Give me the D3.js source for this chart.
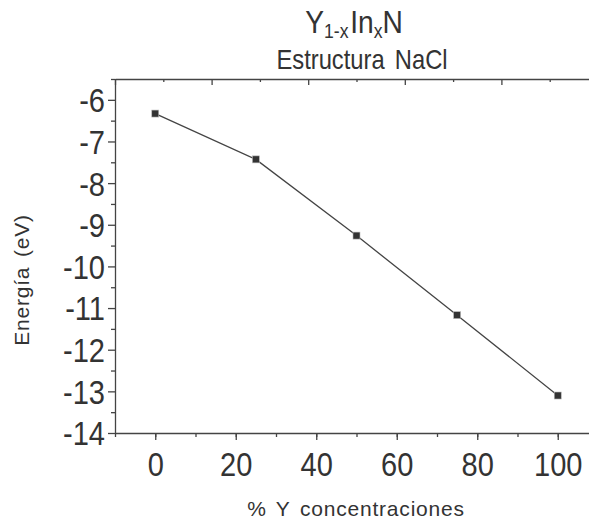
<!DOCTYPE html>
<html lang="es">
<head>
    <meta charset="UTF-8">
    <title>Y1-xInxN Estructura NaCl</title>
    <style>
        body { margin: 0; background: #fff; }
        svg { display: block; font-family: "Liberation Sans", Arial, sans-serif; }
        .axis path, .axis line { stroke: #444; stroke-width: 1.3; }
        .axis text { fill: #333; font-size: 33px; }
    </style>
</head>
<body>
    <div id="chart"></div>
    <script src="https://d3js.org/d3.v7.min.js"></script>
    <script>
        const concentration = [0, 25, 50, 75, 100];
        const energy = [-6.33, -7.43, -9.26, -11.17, -13.1];
        const xTicks = [0, 20, 40, 60, 80, 100];
        const yTicks = [-6, -7, -8, -9, -10, -11, -12, -13, -14];

        const width = 589, height = 522;
        const mLeft = 115, mRight = 598, mTop = 79, mBottom = 433;
        const squeeze = 0.88; // the original lettering is a bit condensed

        const svg = d3.select("#chart").append("svg")
            .attr("width", width)
            .attr("height", height);

        const x = d3.scaleLinear().domain([-10, 110]).range([mLeft, mRight]);
        const y = d3.scaleLinear().domain([-14, -5.5]).range([mBottom, mTop]);
        // top frame has its own unlabeled scale in the original
        const xTop = d3.scaleLinear().domain([0, 5]).range([mLeft, mRight]);

        // minor ticks
        svg.append("g").attr("class", "axis")
            .attr("transform", `translate(0,${mBottom})`)
            .call(d3.axisBottom(x).tickValues(d3.range(-10, 111, 10)).tickSize(4).tickFormat(""))
            .select(".domain").remove();
        svg.append("g").attr("class", "axis")
            .attr("transform", `translate(${mLeft},0)`)
            .call(d3.axisLeft(y).tickValues(d3.range(-13.5, -5.4, 1)).tickSize(4).tickFormat(""))
            .select(".domain").remove();

        // major ticks
        const xAxis = svg.append("g").attr("class", "axis")
            .attr("transform", `translate(0,${mBottom})`)
            .call(d3.axisBottom(x).tickValues(xTicks).tickSize(7).tickSizeOuter(0).tickPadding(13));
        xAxis.selectAll(".tick text").attr("transform", `scale(${squeeze},1)`);

        const yAxis = svg.append("g").attr("class", "axis")
            .attr("transform", `translate(${mLeft},0)`)
            .call(d3.axisLeft(y).tickValues(yTicks).tickSize(7).tickSizeOuter(0).tickPadding(3)
                .tickFormat(d => String(d)));
        yAxis.selectAll(".tick text")
            .attr("dy", "0.36em")
            .attr("x", -10 / squeeze)
            .attr("transform", `scale(${squeeze},1)`);

        // top frame with inward ticks
        svg.append("g").attr("class", "axis")
            .attr("transform", `translate(0,${mTop})`)
            .call(d3.axisTop(xTop).tickValues(d3.range(0.5, 5, 1)).tickSize(-3).tickFormat(""))
            .select(".domain").remove();
        svg.append("g").attr("class", "axis")
            .attr("transform", `translate(0,${mTop})`)
            .call(d3.axisTop(xTop).tickValues(d3.range(0, 6, 1)).tickSize(-6).tickSizeOuter(0).tickFormat(""));

        const pts = concentration.map((c, i) => ({ c, e: energy[i] }));

        svg.append("path")
            .datum(pts)
            .attr("fill", "none")
            .attr("stroke", "#444")
            .attr("stroke-width", 1.3)
            .attr("d", d3.line().x(d => x(d.c)).y(d => y(d.e)));

        svg.selectAll("rect.pt")
            .data(pts)
            .enter().append("rect")
            .attr("class", "pt")
            .attr("x", d => x(d.c) - 3.5)
            .attr("y", d => y(d.e) - 3.5)
            .attr("width", 7)
            .attr("height", 7)
            .attr("fill", "#333")
            .attr("stroke", "#bbb")
            .attr("stroke-width", 0.6);

        // title
        const title = svg.append("text")
            .attr("transform", `translate(354,33) scale(${squeeze},1)`)
            .attr("text-anchor", "middle")
            .attr("fill", "#333")
            .attr("font-size", 32);
        title.append("tspan").text("Y");
        title.append("tspan").attr("font-size", 20).attr("dy", 5).text("1-x");
        title.append("tspan").attr("dy", -5).attr("dx", 2).text("In");
        title.append("tspan").attr("font-size", 20).attr("dy", 5).text("x");
        title.append("tspan").attr("dy", -5).text("N");

        svg.append("text")
            .attr("transform", `translate(362,69) scale(${squeeze},1)`)
            .attr("text-anchor", "middle")
            .attr("fill", "#333")
            .attr("font-size", 27)
            .attr("word-spacing", 4)
            .text("Estructura NaCl");

        svg.append("text")
            .attr("x", 356)
            .attr("y", 516)
            .attr("text-anchor", "middle")
            .attr("fill", "#333")
            .attr("font-size", 21)
            .attr("letter-spacing", 0.8)
            .attr("word-spacing", 3)
            .text("% Y concentraciones");

        svg.append("text")
            .attr("transform", "translate(29,280) rotate(-90)")
            .attr("text-anchor", "middle")
            .attr("fill", "#333")
            .attr("font-size", 21)
            .attr("letter-spacing", 0.8)
            .attr("word-spacing", 3)
            .text("Energía (eV)");
    </script>
</body>
</html>
